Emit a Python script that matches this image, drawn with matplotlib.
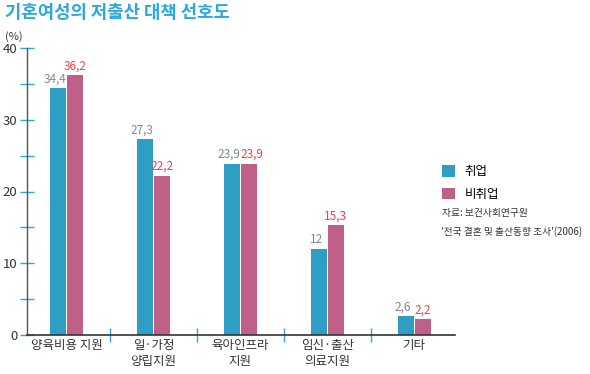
import numpy as np
import matplotlib.pyplot as plt
from matplotlib.ticker import MultipleLocator

plt.rcParams['font.family'] = ['Noto Sans CJK KR', 'DejaVu Sans']

categories = ['양육비용 지원', '일·가정\n양립지원', '육아인프라\n지원', '임신·출산\n의료지원', '기타']
employed = [34.4, 27.3, 23.9, 12, 2.6]
unemployed = [36.2, 22.2, 23.9, 15.3, 2.2]
employed_labels = ['34,4', '27,3', '23,9', '12', '2,6']
unemployed_labels = ['36,2', '22,2', '23,9', '15,3', '2,2']

blue = '#2f9ec4'
pink = '#c06088'
tick_blue = '#2aa8e0'

fig = plt.figure(figsize=(5.9, 3.74), dpi=100)
ax = fig.add_axes([27 / 590, 39 / 374, 428 / 590, 287 / 374])

x = np.arange(len(categories))
width = 0.185
off = 0.097

ax.bar(x - off, employed, width=width, color=blue, label='취업')
ax.bar(x + off, unemployed, width=width, color=pink, label='비취업')

# value labels; push apart when both bars are the same height
for xi, a, b, sa, sb in zip(x, employed, unemployed, employed_labels, unemployed_labels):
    if abs(a - b) < 1 and len(sa) > 3:
        ax.text(xi - off + width / 2, a + 0.4, sa, ha='right', va='bottom', fontsize=8.5, color='#7d8794')
        ax.text(xi + off - width / 2, b + 0.4, sb, ha='left', va='bottom', fontsize=8.5, color='#f0404a')
    else:
        ax.text(xi - off - 0.03, a + 0.4, sa, ha='center', va='bottom', fontsize=8.5, color='#7d8794')
        ax.text(xi + off, b + 0.4, sb, ha='center', va='bottom', fontsize=8.5, color='#f0404a')

ax.set_xlim(-0.454, 4.47)
ax.set_ylim(0, 40)

# spines
for s in ['top', 'right']:
    ax.spines[s].set_visible(False)
ax.spines['left'].set_color('#555555')
ax.spines['bottom'].set_color('#333333')
ax.spines['left'].set_linewidth(1)
ax.spines['bottom'].set_linewidth(1.2)

# y ticks
ax.yaxis.set_major_locator(MultipleLocator(10))
ax.yaxis.set_minor_locator(MultipleLocator(5))
ax.tick_params(axis='y', which='both', direction='inout', length=10, color=tick_blue,
               width=1, labelsize=9.5, labelcolor='#333333', pad=2)

# x ticks: separators between groups
ax.set_xticks(x[:-1] + 0.5)
ax.set_xticklabels([])
ax.set_xticks(x, minor=True)
ax.set_xticklabels(categories, minor=True, fontsize=9, color='#333333', linespacing=1.25)
ax.tick_params(axis='x', which='major', direction='inout', length=10, color=tick_blue, width=1)
ax.tick_params(axis='x', which='minor', length=0, pad=3)

fig.text(5 / 590, 1 - 37 / 374, '(%)', fontsize=8, color='#333333', va='center')
fig.text(5 / 590, 1 - 13 / 374, '기혼여성의 저출산 대책 선호도', fontsize=12.8,
         fontweight='bold', color=tick_blue, va='center')

leg = fig.legend(loc='upper left', bbox_to_anchor=(436 / 590, 1 - 159 / 374), frameon=False,
                 fontsize=9, handlelength=1.0, handleheight=1.0, handletextpad=0.8,
                 labelspacing=0.75, borderpad=0)

fig.text(442 / 590, 1 - 213 / 374, '자료: 보건사회연구원', fontsize=7, color='#333333', va='center')
fig.text(441 / 590, 1 - 232 / 374, "'전국 결혼 및 출산동향 조사'(2006)", fontsize=7,
         color='#333333', va='center')

fig.savefig('out.png', dpi=100)
